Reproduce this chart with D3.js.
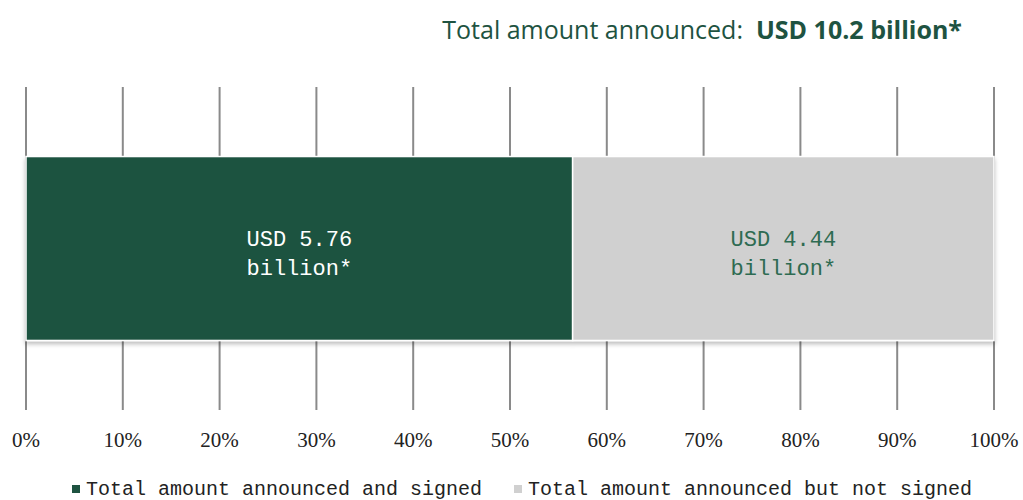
<!DOCTYPE html>
<html><head><meta charset="utf-8">
<script src="https://cdn.jsdelivr.net/npm/d3@7"></script>
<style>body{margin:0;background:#fff}svg{display:block}</style>
</head><body>
<svg id="c" width="1023" height="500"></svg>
<script>
const categories = ["Total amount announced and signed", "Total amount announced but not signed"];
const valuesUSD = [5.76, 4.44];
const barLabels = [["USD 5.76", "billion*"], ["USD 4.44", "billion*"]];
const tickValues = [0, 0.1, 0.2, 0.3, 0.4, 0.5, 0.6, 0.7, 0.8, 0.9, 1.0];
const titleParts = ["Total amount announced:  ", "USD 10.2 billion*"];
const colors = ["#1e5341", "#d0d0d0"];
const labelColors = ["#ffffff", "#2e6b52"];

const svg = d3.select("#c");
const total = d3.sum(valuesUSD);
const x = d3.scaleLinear().domain([0, 1]).range([26, 994]);
const y = d3.scaleBand().domain(["bar"]).range([87, 410]).paddingInner(0).paddingOuter(0.378);

const defs = svg.append("defs");
const f = defs.append("filter").attr("id","sh").attr("x","-5%").attr("y","-5%").attr("width","110%").attr("height","120%");
f.append("feDropShadow").attr("dx",0).attr("dy",3).attr("stdDeviation",2).attr("flood-color","#000").attr("flood-opacity",0.25);

// gridlines
svg.append("g").selectAll("line").data(tickValues).join("line")
  .attr("x1", d => x(d)).attr("x2", d => x(d))
  .attr("y1", 87).attr("y2", 410)
  .attr("stroke", "#8a8a8a").attr("stroke-width", 2);

// stacked
let acc = 0;
const segs = valuesUSD.map((v, i) => { const s = {i, x0: acc / total, x1: (acc + v) / total}; acc += v; return s; });

svg.append("g").attr("filter","url(#sh)").selectAll("rect").data(segs).join("rect")
  .attr("x", d => x(d.x0)).attr("width", d => x(d.x1) - x(d.x0))
  .attr("y", y("bar")).attr("height", y.bandwidth())
  .attr("fill", d => colors[d.i]).attr("stroke", "#fff").attr("stroke-width", 1.5);

const lab = svg.append("g");
segs.forEach(d => {
  const cx = (x(d.x0) + x(d.x1)) / 2;
  const cy = y("bar") + y.bandwidth() / 2;
  barLabels[d.i].forEach((t, j) => {
    lab.append("text").attr("x", cx).attr("y", cy - 3 + j * 29)
      .attr("text-anchor", "middle")
      .attr("font-family", "Liberation Mono, monospace").attr("font-size", 22)
      .attr("fill", labelColors[d.i]).text(t);
  });
});

// axis labels
svg.append("g").selectAll("text").data(tickValues).join("text")
  .attr("x", d => x(d)).attr("y", 447)
  .attr("text-anchor", "middle")
  .attr("font-family", "Liberation Serif, serif").attr("font-size", 21)
  .attr("fill", "#222").text(d => d3.format(".0%")(d));

// title
const title = svg.append("text").attr("x", 962).attr("y", 39).attr("text-anchor", "end")
  .attr("font-family", "Open Sans, sans-serif").attr("font-size", 25).attr("fill", "#1e5341");
title.append("tspan").attr("xml:space","preserve").text(titleParts[0]);
title.append("tspan").attr("font-weight", "bold").text(titleParts[1]);

// legend
const legX = [72, 514];
const lg = svg.append("g");
categories.forEach((c, i) => {
  lg.append("rect").attr("x", legX[i]).attr("y", 485).attr("width", 8).attr("height", 8).attr("fill", colors[i]);
  lg.append("text").attr("x", legX[i] + 14).attr("y", 495)
    .attr("font-family", "Liberation Mono, monospace").attr("font-size", 20)
    .attr("fill", "#222").text(c);
});
</script>
</body></html>
